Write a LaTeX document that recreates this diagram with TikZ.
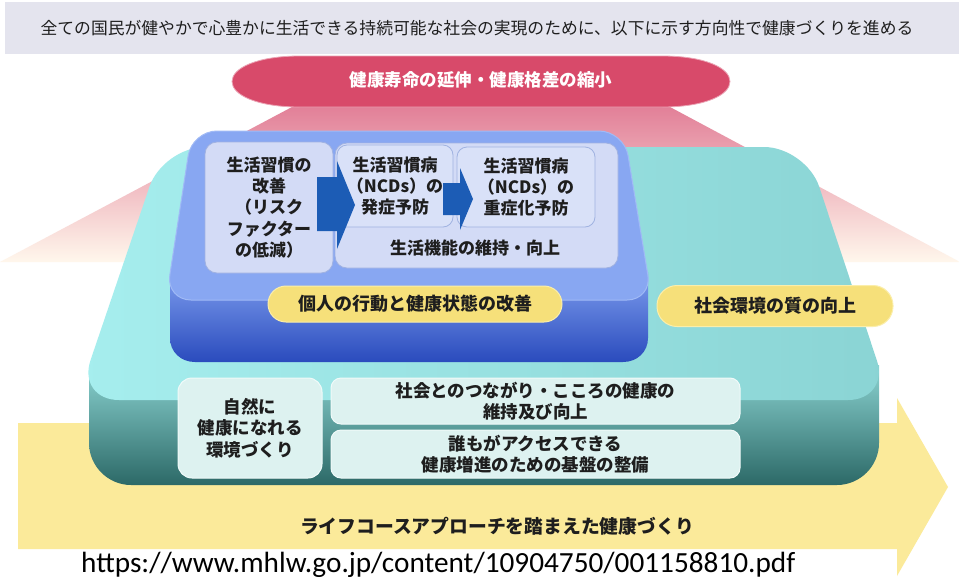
\documentclass[tikz,border=0pt]{standalone}
\usepackage{fontspec}
\setmainfont{Noto Sans CJK JP}
\newfontfamily\urlfont{Carlito}
\definecolor{txt}{RGB}{30,30,30}
\definecolor{bannerfill}{RGB}{228,228,238}
\definecolor{goalfill}{RGB}{216,74,106}
\definecolor{pinkA}{RGB}{226,128,152}
\definecolor{pinkB}{RGB}{238,170,178}
\definecolor{pinkC}{RGB}{255,247,236}
\definecolor{bandfill}{RGB}{251,234,154}
\definecolor{tealT1}{RGB}{166,238,238}
\definecolor{tealT2}{RGB}{138,212,212}
\definecolor{tealF1}{RGB}{140,212,210}
\definecolor{tealF2}{RGB}{80,150,147}
\definecolor{tealF3}{RGB}{44,105,103}
\definecolor{blueTop}{RGB}{136,167,242}
\definecolor{blueLine}{RGB}{160,186,246}
\definecolor{blueF1}{RGB}{126,158,238}
\definecolor{blueF2}{RGB}{87,121,219}
\definecolor{blueF3}{RGB}{42,75,189}
\definecolor{lboxfill}{RGB}{211,219,246}
\definecolor{iboxfill}{RGB}{217,225,248}
\definecolor{lboxline}{RGB}{160,178,225}
\definecolor{arrowblue}{RGB}{28,92,181}
\definecolor{pillfill}{RGB}{246,224,122}
\definecolor{pillline}{RGB}{251,238,170}
\definecolor{gboxfill}{RGB}{221,242,240}
\definecolor{gboxline}{RGB}{240,250,249}
\tikzset{
  bannertext/.style={font=\fontsize{16.8}{20}\selectfont, text=txt, inner sep=0},
  goaltext/.style={font=\bfseries\fontsize{17.5}{21}\selectfont, text=white, inner sep=0},
  lbox/.style={draw=lboxline, fill=lboxfill, line width=0.8pt, rounded corners=12pt, inner sep=0, align=center, font=\bfseries\fontsize{17}{21.3}\selectfont, text=txt},
  ibox/.style={lbox, fill=iboxfill, rounded corners=10pt},
  lbl/.style={inner sep=0, align=center, font=\bfseries\fontsize{17}{21.3}\selectfont, text=txt},
  pill/.style={fill=pillfill, draw=pillline, line width=1pt, rounded corners=18pt, inner sep=0, font=\bfseries\fontsize{18}{22}\selectfont, text=txt},
  gbox/.style={fill=gboxfill, draw=gboxline, line width=1pt, rounded corners=12pt, inner sep=0, align=center, font=\bfseries\fontsize{17.5}{21.5}\selectfont, text=txt},
  blockarrow/.style={fill=arrowblue},
}
\begin{document}
\begin{tikzpicture}[x=1pt,y=-1pt]
\useasboundingbox (0,0) rectangle (959,579);
\fill[white] (0,0) rectangle (959,579);
% banner
\fill[bannerfill] (5,2) rectangle (959,54);
\node[bannertext] (title) at (477,28) {全ての国民が健やかで心豊かに生活できる持続可能な社会の実現のために、以下に示す方向性で健康づくりを進める};
% pink trapezoid
\shade[top color=pinkA, middle color=pinkB, bottom color=pinkC] (292,107) -- (670,107) -- (960,262) -- (0,262) -- cycle;
% goal ellipse
\fill[goalfill, draw=goalfill!50!white, line width=0.8pt] (300,56) -- (662,56) .. controls (705,56) and (730,68) .. (730,81.5) .. controls (730,95) and (705,107) .. (662,107) -- (300,107) .. controls (257,107) and (232,95) .. (232,81.5) .. controls (232,68) and (257,56) .. (300,56) -- cycle;
\node[goaltext] (goal) at (481,80) {健康寿命の延伸・健康格差の縮小};
% yellow life-course arrow
\fill[bandfill] (18,423) -- (897,423) -- (897,398) -- (948,487) -- (897,576) -- (897,549) -- (18,549) -- cycle;
% teal slab
\shade[top color=tealF1, middle color=tealF2, bottom color=tealF3] (89,365) -- (89,443) .. controls (89,466) and (108,485) .. (131,485) -- (837,485) .. controls (860,485) and (879,466) .. (879,443) -- (879,365) -- cycle;
\shade[left color=tealT1, right color=tealT2, rounded corners=42pt] (163,147) -- (806,147) -- (890,400) -- (77,400) -- cycle;
% blue slab
\shade[top color=blueF1, middle color=blueF2, bottom color=blueF3] (170,272) -- (170,338) .. controls (170,352) and (181,362) .. (195,362) -- (623,362) .. controls (637,362) and (648,352) .. (648,338) -- (648,272) -- cycle;
\filldraw[fill=blueTop, draw=blueLine, line width=1pt, rounded corners=25pt] (192,131) -- (624,131) -- (652,300) -- (166,300) -- cycle;
% inner boxes
\node[lbox, minimum width=128pt, minimum height=131pt] (habit) at (269,207.5) {生活習慣の\\改善\\（リスク\\ファクター\\の低減）};
\node[lbox, minimum width=283pt, minimum height=125pt] (func) at (476.5,205.5) {};
\node[ibox, minimum width=116pt, minimum height=82pt] (onset) at (395,186) {生活習慣病\\（NCDs）の\\発症予防};
\node[ibox, minimum width=138pt, minimum height=80pt] (severe) at (526,187) {生活習慣病\\（NCDs）の\\重症化予防};
\node[lbl] (functext) at (475,248) {生活機能の維持・向上};
% block arrows
\fill[blockarrow] (317,177) -- (337,177) -- (337,161) -- (355,205) -- (337,249) -- (337,231) -- (317,231) -- cycle;
\fill[blockarrow] (443,183) -- (460,183) -- (460,168) -- (473,199) -- (460,230) -- (460,215) -- (443,215) -- cycle;
% pills
\node[pill, minimum width=294pt, minimum height=36pt] (indiv) at (415,304) {個人の行動と健康状態の改善};
\node[pill, rounded corners=20pt, minimum width=236pt, minimum height=41pt] (social) at (775,306) {社会環境の質の向上};
% environment boxes
\node[gbox, minimum width=144pt, minimum height=100pt, rounded corners=14pt] (nature) at (250,428) {自然に\\健康になれる\\環境づくり};
\node[gbox, minimum width=409pt, minimum height=46pt, rounded corners=10pt] (connect) at (535.5,401) {社会とのつながり・こころの健康の\\維持及び向上};
\node[gbox, minimum width=409pt, minimum height=48pt, rounded corners=10pt] (access) at (535.5,454) {誰もがアクセスできる\\健康増進のための基盤の整備};
% life course text
\node[lbl, font=\bfseries\fontsize{18.8}{22}\selectfont] (life) at (497,526.5) {ライフコースアプローチを踏まえた健康づくり};
% url
\node[inner sep=0, anchor=base west, text=black] (url) at (81,572) {\resizebox{714pt}{!}{\urlfont https://www.mhlw.go.jp/content/10904750/001158810.pdf}};
\end{tikzpicture}
\end{document}
